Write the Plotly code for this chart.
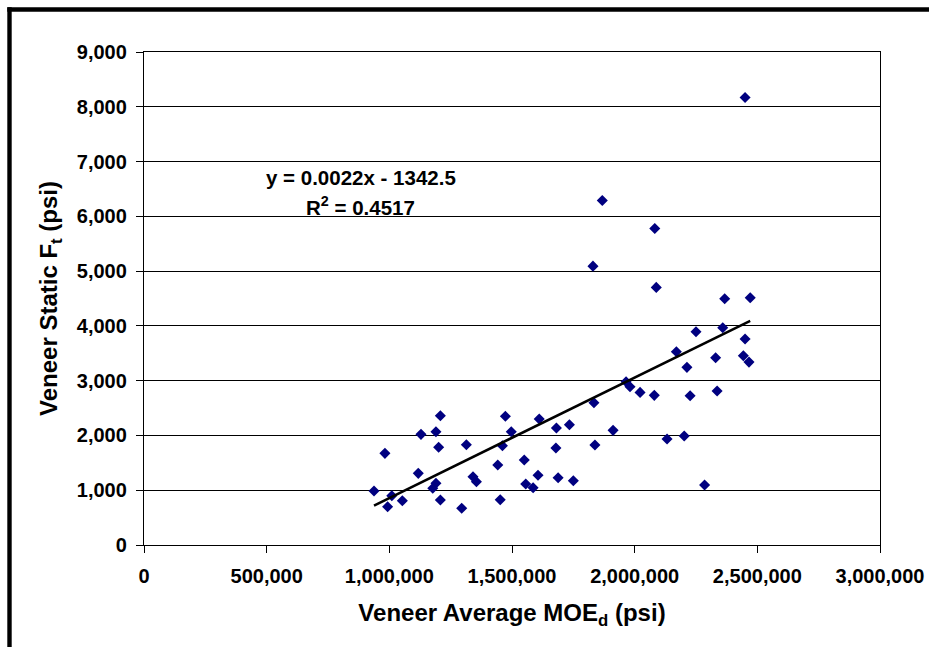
import plotly.graph_objects as go

# ---- data ----
moe_psi = [937500, 982000, 993000, 1010000, 1053000, 1118000, 1129000, 1177000, 1190000, 1190000,
           1201000, 1208000, 1208000, 1295000, 1314000, 1341000, 1355000, 1442000, 1452000, 1461000,
           1473000, 1497000, 1550000, 1556000, 1586000, 1606000, 1611000, 1681000, 1679000, 1688000,
           1734000, 1750000, 1838000, 1834000, 1912000, 1965000, 1981000, 2022000, 2080000, 2132000,
           2202000, 2226000, 2285000, 2336000, 1868000, 2082000, 1830000, 2088000, 2367000, 2250000,
           2359000, 2170000, 2330000, 2213000, 2471000, 2450000, 2443000, 2466000, 2450000]
ft_psi = [985, 1673, 699, 900, 808, 1308, 2020, 1035, 1126, 2068,
          1783, 2360, 821, 670, 1830, 1246, 1155, 1460, 827, 1812,
          2349, 2068, 1551, 1113, 1046, 1272, 2299, 2135, 1770, 1228,
          2195, 1173, 1825, 2597, 2093, 2980, 2889, 2786, 2732, 1934,
          1989, 2724, 1095, 2810, 6290, 5779, 5091, 4703, 4495, 3892,
          3965, 3527, 3418, 3243, 4513, 3759, 3454, 3339, 8170]

trend_slope = 0.0022
trend_intercept = -1342.5
r_squared = 0.4517

x_ticks = [0, 500000, 1000000, 1500000, 2000000, 2500000, 3000000]
x_tick_labels = ["0", "500,000", "1,000,000", "1,500,000", "2,000,000", "2,500,000", "3,000,000"]
y_ticks = [0, 1000, 2000, 3000, 4000, 5000, 6000, 7000, 8000, 9000]
y_tick_labels = ["0", "1,000", "2,000", "3,000", "4,000", "5,000", "6,000", "7,000", "8,000", "9,000"]

FONT = "Liberation Sans, Arial, sans-serif"

trend_x = [min(moe_psi), max(moe_psi)]
trend_y = [trend_slope * v + trend_intercept for v in trend_x]

fig = go.Figure()
fig.add_trace(go.Scatter(
    x=moe_psi, y=ft_psi, mode="markers",
    marker=dict(symbol="diamond", size=8.5, color="#000080", line=dict(width=0)),
    showlegend=False, cliponaxis=False,
))
fig.add_trace(go.Scatter(
    x=trend_x, y=trend_y, mode="lines",
    line=dict(color="black", width=2.5), showlegend=False,
))

W, H = 932, 648
ml, mr, mt, mb = 144, 52, 52, 103
pw, ph = W - ml - mr, H - mt - mb


def px_to_paper_x(p):
    return (p - ml) / pw


def px_to_paper_y(p):
    return (H - mb - p) / ph


# outer chart frame: only its top and left edges fall inside the picture (filled bands)
fig.add_shape(type="rect", xref="paper", yref="paper",
              x0=px_to_paper_x(7.3), x1=px_to_paper_x(W - 3),
              y0=px_to_paper_y(11.7), y1=px_to_paper_y(7.3),
              line=dict(width=0), fillcolor="black", layer="above")
fig.add_shape(type="rect", xref="paper", yref="paper",
              x0=px_to_paper_x(7.3), x1=px_to_paper_x(11.7),
              y0=px_to_paper_y(H - 1), y1=px_to_paper_y(7.3),
              line=dict(width=0), fillcolor="black", layer="above")

eq_font = dict(family=FONT, size=20.5, color="black")
fig.add_annotation(xref="paper", yref="paper", x=px_to_paper_x(361), y=px_to_paper_y(177),
                   text="<b>y = %.4fx - %.1f</b>" % (trend_slope, -trend_intercept),
                   showarrow=False, font=eq_font, xanchor="center", yanchor="middle")
fig.add_annotation(xref="paper", yref="paper", x=px_to_paper_x(360), y=px_to_paper_y(206),
                   text="<b>R<sup>2</sup> = %.4f</b>" % r_squared,
                   showarrow=False, font=eq_font, xanchor="center", yanchor="middle")

axis_common = dict(
    showline=True, linecolor="black", linewidth=1.3, mirror=True,
    ticks="outside", ticklen=7, tickwidth=1.2, tickcolor="black",
    tickfont=dict(family=FONT, size=20, color="black"),
    zeroline=False,
)

fig.update_xaxes(
    range=[0, 3000000], tickvals=x_ticks, ticktext=["<b>%s</b>" % t for t in x_tick_labels],
    showgrid=False, ticklabelstandoff=6,
    title=dict(text="<b>Veneer Average MOE<sub>d</sub> (psi)</b>",
               font=dict(family=FONT, size=24, color="black"), standoff=18),
    **axis_common,
)
fig.update_yaxes(
    range=[0, 9000], tickvals=y_ticks, ticktext=["<b>%s</b>" % t for t in y_tick_labels],
    showgrid=True, gridcolor="black", gridwidth=1.2, ticklabelstandoff=5,
    title=dict(text="<b>Veneer Static F<sub>t</sub> (psi)</b>",
               font=dict(family=FONT, size=24, color="black"), standoff=12),
    **axis_common,
)

fig.update_layout(
    width=W, height=H,
    margin=dict(l=ml, r=mr, t=mt, b=mb, autoexpand=False),
    paper_bgcolor="white", plot_bgcolor="white",
    font=dict(family=FONT, color="black"),
)

fig.write_html("out.html", config={"displayModeBar": False})
